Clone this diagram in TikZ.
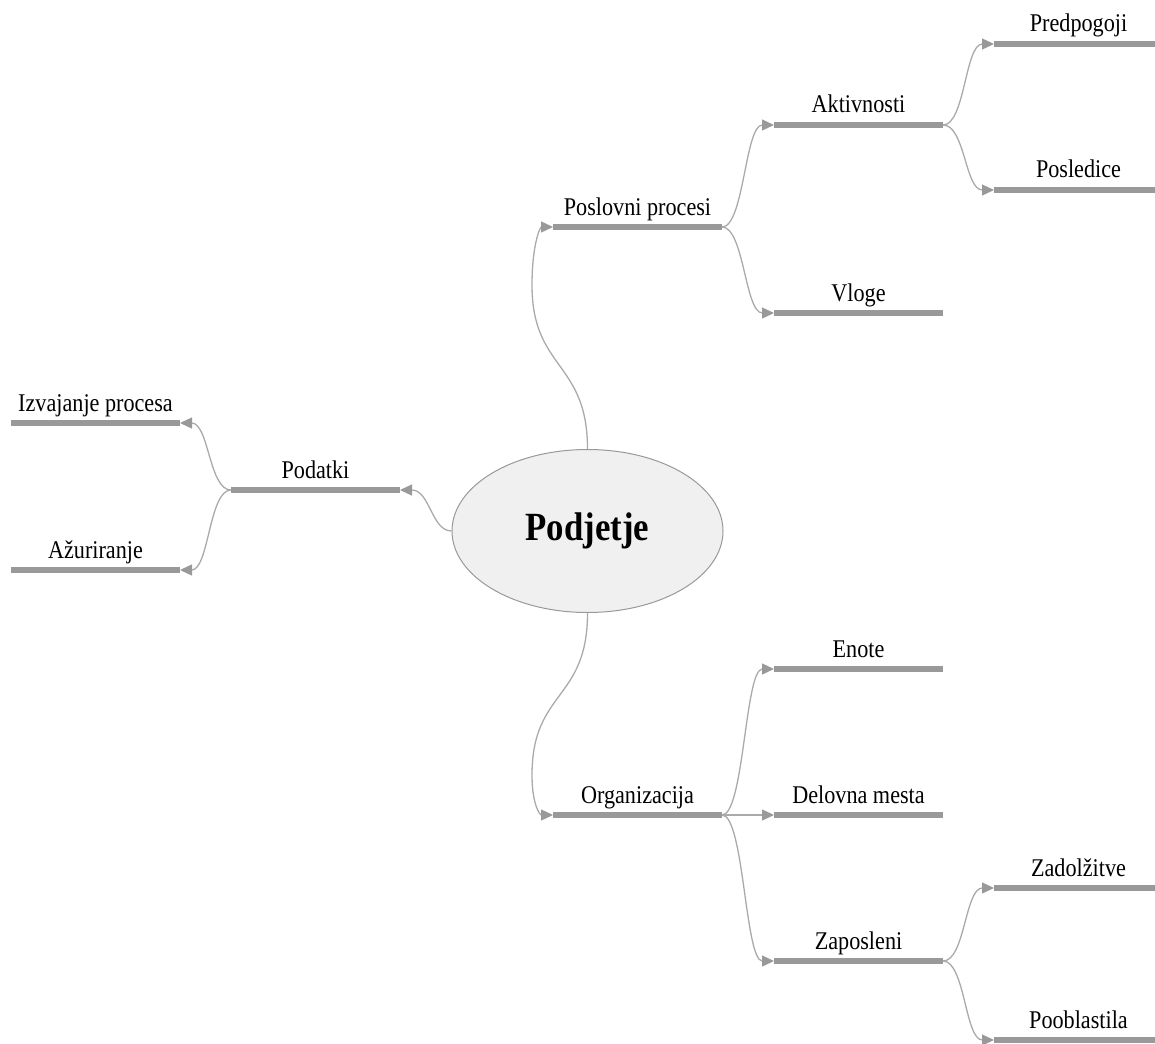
\documentclass[tikz,border=0pt]{standalone}
\usepackage{fontspec}
\setmainfont[FakeStretch=0.87]{Liberation Serif}
\usetikzlibrary{shapes.geometric,arrows.meta}

\definecolor{bargray}{HTML}{999999}
\definecolor{linegray}{HTML}{AAAAAA}
\definecolor{rootfill}{HTML}{F0F0F0}

\tikzset{
  rootnode/.style={ellipse, draw=bargray, line width=1pt, fill=rootfill,
    minimum width=271pt, minimum height=163pt, inner sep=0pt,
    font=\fontsize{40}{46}\selectfont\bfseries},
  topicbar/.style={rectangle, fill=bargray, minimum width=169pt,
    minimum height=5.5pt, inner sep=0pt, outer sep=0pt},
  topiclabel/.style={anchor=base, inner sep=0pt,
    font=\fontsize{25.5}{30}\selectfont},
  conn/.style={draw=linegray, line width=1.3pt,
    -{Triangle[length=12pt,width=11pt,fill=bargray,color=bargray]}},
}

% a topic: bar plus its caption set just above it
\newcommand{\topic}[3]{%
  \node[topicbar] (#1) at (#2) {};
  \node[topiclabel] (#1-t) at ([yshift=12pt]#1.center) {#3};
}

\begin{document}
\begin{tikzpicture}[x=1pt, y=-1pt]
  \clip (0,0) rectangle (1155,1043);

  \node[rootnode] (root) at (587.5,531) {Podjetje};

  % first level
  \topic{pp}{637.5,227}{Poslovni procesi}
  \topic{org}{637.5,815}{Organizacija}
  \topic{pod}{315.5,490}{Podatki}

  % second level
  \topic{akt}{858.5,125}{Aktivnosti}
  \topic{vlo}{858.5,313}{Vloge}
  \topic{izv}{95.5,423}{Izvajanje procesa}
  \topic{azu}{95.5,570}{Ažuriranje}
  \topic{eno}{858.5,669}{Enote}
  \topic{dm}{858.5,815}{Delovna mesta}
  \topic{zap}{858.5,961}{Zaposleni}

  % third level
  \topic{pre}{1078.5,44}{Predpogoji}
  \topic{pos}{1078.5,190}{Posledice}
  \topic{zad}{1078.5,888}{Zadolžitve}
  \topic{poo}{1078.5,1040}{Pooblastila}

  % connectors from the centre
  \draw[conn] (root.north) .. controls +(0,-88) and +(0,85) .. (532,285)
              .. controls +(0,-40) and +(-13,0) .. (pp.west);
  \draw[conn] (root.south) .. controls +(0,88) and +(0,-85) .. (532,775)
              .. controls +(0,30) and +(-13,0) .. (org.west);
  \draw[conn] (root.west) .. controls +(-20,0) and +(30,0) .. (pod.east);

  % connectors between topics
  \draw[conn] (pp.east) .. controls +(22,0) and +(-29,0) .. (akt.west);
  \draw[conn] (pp.east) .. controls +(22,0) and +(-29,0) .. (vlo.west);
  \draw[conn] (akt.east) .. controls +(22,0) and +(-29,0) .. (pre.west);
  \draw[conn] (akt.east) .. controls +(22,0) and +(-29,0) .. (pos.west);
  \draw[conn] (pod.west) .. controls +(-22,0) and +(29,0) .. (izv.east);
  \draw[conn] (pod.west) .. controls +(-22,0) and +(29,0) .. (azu.east);
  \draw[conn] (org.east) .. controls +(22,0) and +(-29,0) .. (eno.west);
  \draw[conn] (org.east) -- (dm.west);
  \draw[conn] (org.east) .. controls +(22,0) and +(-29,0) .. (zap.west);
  \draw[conn] (zap.east) .. controls +(22,0) and +(-29,0) .. (zad.west);
  \draw[conn] (zap.east) .. controls +(22,0) and +(-29,0) .. (poo.west);
\end{tikzpicture}
\end{document}
